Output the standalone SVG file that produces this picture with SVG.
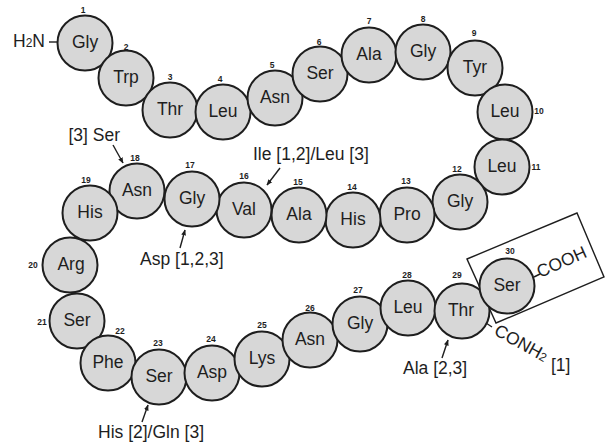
<svg xmlns="http://www.w3.org/2000/svg" width="606" height="444" viewBox="0 0 606 444">
<style>
.res circle{fill:#d7d7d7;stroke:#1e1e1e;stroke-width:2}
.lbl{font-family:"Liberation Sans",Arial,sans-serif;font-size:17.5px;fill:#1e1e1e;text-anchor:middle}
.num{font-family:"Liberation Sans",Arial,sans-serif;font-size:8.5px;font-weight:bold;fill:#1e1e1e;text-anchor:middle}
.ann{font-family:"Liberation Sans",Arial,sans-serif;font-size:17.5px;fill:#1e1e1e}
.ln{stroke:#1e1e1e;stroke-width:1.4;fill:none}
.arr{stroke:#1e1e1e;stroke-width:1.4;fill:none;marker-end:url(#ah)}
</style>
<defs>
<marker id="ah" viewBox="0 0 10 10" refX="9" refY="5" markerWidth="6" markerHeight="6" orient="auto" markerUnits="userSpaceOnUse">
<path d="M0,1 L10,5 L0,9 Z" fill="#1e1e1e"/>
</marker>
</defs>
<rect width="606" height="444" fill="#ffffff"/>
<g id="connectors">
<polygon class="ln" points="467,259 577,213 604,277 496,323"/>
<line class="ln" x1="49" y1="42" x2="57" y2="42"/>
<line class="ln" x1="534" y1="277" x2="540" y2="274"/>
<line class="ln" x1="486" y1="323" x2="492" y2="327"/>
<line class="arr" x1="113" y1="145" x2="123" y2="163"/>
<line class="arr" x1="280" y1="168" x2="267" y2="185"/>
<line class="arr" x1="180" y1="248" x2="185" y2="230"/>
<line class="arr" x1="442" y1="358" x2="448" y2="340"/>
<line class="arr" x1="142" y1="422" x2="148" y2="405"/>
</g>
<g id="n1" class="res"><circle cx="85" cy="43" r="27.5"/><text class="lbl" x="85" y="48">Gly</text><text class="num" x="83" y="13">1</text></g>
<g id="n2" class="res"><circle cx="126" cy="78" r="27.5"/><text class="lbl" x="126" y="83">Trp</text><text class="num" x="126" y="50">2</text></g>
<g id="n3" class="res"><circle cx="170" cy="110" r="27.5"/><text class="lbl" x="170" y="115">Thr</text><text class="num" x="170" y="80">3</text></g>
<g id="n4" class="res"><circle cx="223" cy="112" r="27.5"/><text class="lbl" x="223" y="117">Leu</text><text class="num" x="220" y="82">4</text></g>
<g id="n5" class="res"><circle cx="275" cy="98" r="27.5"/><text class="lbl" x="275" y="103">Asn</text><text class="num" x="272" y="68">5</text></g>
<g id="n6" class="res"><circle cx="320" cy="74" r="27.5"/><text class="lbl" x="320" y="79">Ser</text><text class="num" x="319" y="45">6</text></g>
<g id="n7" class="res"><circle cx="369" cy="55" r="27.5"/><text class="lbl" x="369" y="60">Ala</text><text class="num" x="369" y="24">7</text></g>
<g id="n8" class="res"><circle cx="423" cy="52" r="27.5"/><text class="lbl" x="423" y="57">Gly</text><text class="num" x="423" y="22">8</text></g>
<g id="n9" class="res"><circle cx="475" cy="68" r="27.5"/><text class="lbl" x="475" y="73">Tyr</text><text class="num" x="474" y="36">9</text></g>
<g id="n10" class="res"><circle cx="505" cy="112" r="27.5"/><text class="lbl" x="505" y="117">Leu</text><text class="num" x="539" y="114">10</text></g>
<g id="n11" class="res"><circle cx="502" cy="167" r="27.5"/><text class="lbl" x="502" y="172">Leu</text><text class="num" x="536" y="170">11</text></g>
<g id="n12" class="res"><circle cx="460" cy="202" r="27.5"/><text class="lbl" x="460" y="207">Gly</text><text class="num" x="457" y="172">12</text></g>
<g id="n13" class="res"><circle cx="407" cy="215" r="27.5"/><text class="lbl" x="407" y="220">Pro</text><text class="num" x="406" y="184">13</text></g>
<g id="n14" class="res"><circle cx="353" cy="220" r="27.5"/><text class="lbl" x="353" y="225">His</text><text class="num" x="352" y="190">14</text></g>
<g id="n15" class="res"><circle cx="299" cy="215" r="27.5"/><text class="lbl" x="299" y="220">Ala</text><text class="num" x="298" y="185">15</text></g>
<g id="n16" class="res"><circle cx="244" cy="210" r="27.5"/><text class="lbl" x="244" y="215">Val</text><text class="num" x="244" y="179">16</text></g>
<g id="n17" class="res"><circle cx="192" cy="199" r="27.5"/><text class="lbl" x="192" y="204">Gly</text><text class="num" x="190" y="168">17</text></g>
<g id="n18" class="res"><circle cx="137" cy="191" r="27.5"/><text class="lbl" x="137" y="196">Asn</text><text class="num" x="135" y="161">18</text></g>
<g id="n19" class="res"><circle cx="90" cy="213" r="27.5"/><text class="lbl" x="90" y="218">His</text><text class="num" x="86" y="183">19</text></g>
<g id="n20" class="res"><circle cx="70" cy="265" r="27.5"/><text class="lbl" x="71" y="270">Arg</text><text class="num" x="33" y="268">20</text></g>
<g id="n21" class="res"><circle cx="77" cy="321" r="27.5"/><text class="lbl" x="77" y="326">Ser</text><text class="num" x="42" y="325">21</text></g>
<g id="n22" class="res"><circle cx="108" cy="363" r="27.5"/><text class="lbl" x="108" y="368">Phe</text><text class="num" x="120" y="334">22</text></g>
<g id="n23" class="res"><circle cx="159" cy="377" r="27.5"/><text class="lbl" x="159" y="382">Ser</text><text class="num" x="158" y="346">23</text></g>
<g id="n24" class="res"><circle cx="212" cy="373" r="27.5"/><text class="lbl" x="212" y="378">Asp</text><text class="num" x="211" y="342">24</text></g>
<g id="n25" class="res"><circle cx="262" cy="359" r="27.5"/><text class="lbl" x="262" y="364">Lys</text><text class="num" x="262" y="328">25</text></g>
<g id="n26" class="res"><circle cx="310" cy="340" r="27.5"/><text class="lbl" x="310" y="345">Asn</text><text class="num" x="310" y="311">26</text></g>
<g id="n27" class="res"><circle cx="360" cy="324" r="27.5"/><text class="lbl" x="360" y="329">Gly</text><text class="num" x="358" y="293">27</text></g>
<g id="n28" class="res"><circle cx="408" cy="308" r="27.5"/><text class="lbl" x="408" y="313">Leu</text><text class="num" x="407" y="278">28</text></g>
<g id="n29" class="res"><circle cx="462" cy="311" r="27.5"/><text class="lbl" x="461" y="316">Thr</text><text class="num" x="457" y="278">29</text></g>
<g id="n30" class="res"><circle cx="507" cy="286" r="27.5"/><text class="lbl" x="507" y="291">Ser</text><text class="num" x="510" y="254">30</text></g>
<g id="labels">
<text class="ann" x="13" y="47">H<tspan font-size="12">2</tspan>N</text>
<text class="ann" transform="translate(540,278) rotate(-24)" x="0" y="0">COOH</text>
<text class="ann" transform="translate(493,334) rotate(29)" x="0" y="0">CONH<tspan font-size="12">2</tspan></text>
<text class="ann" x="551" y="371">[1]</text>
<text class="ann" x="120" y="141" text-anchor="end">[3] Ser</text>
<text class="ann" x="253" y="160">Ile [1,2]/Leu [3]</text>
<text class="ann" x="140" y="265">Asp [1,2,3]</text>
<text class="ann" x="403" y="374">Ala [2,3]</text>
<text class="ann" x="98" y="438">His [2]/Gln [3]</text>
</g>
</svg>
